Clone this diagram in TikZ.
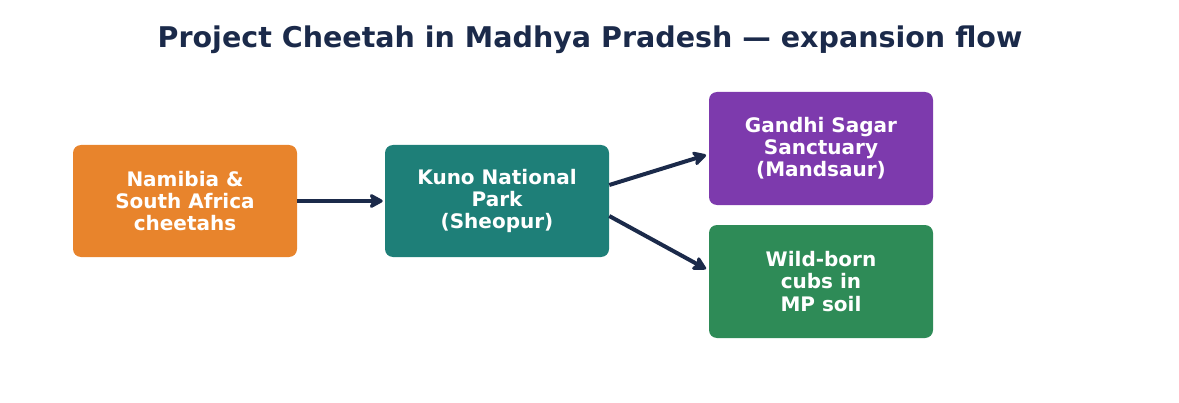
\documentclass[tikz,border=0pt]{standalone}
\usepackage{fontspec}
\setmainfont{DejaVu Sans}
\usetikzlibrary{arrows.meta}
\definecolor{navy}{HTML}{1B2A4A}
\definecolor{cheetahorange}{HTML}{E8842C}
\definecolor{kunoteal}{HTML}{1E7F78}
\definecolor{sagarpurple}{HTML}{7D3AAD}
\definecolor{cubgreen}{HTML}{2E8B57}
\begin{document}
\begin{tikzpicture}
[
    x=0.75pt, y=-0.75pt,
    stagebox/.style={rounded corners=6pt, minimum width=168pt, minimum height=84pt,
        align=center, text=white, font=\fontsize{15}{16.6}\selectfont\bfseries, inner sep=0pt},
    flow/.style={draw=navy, line width=3pt, -{Stealth[length=12pt, width=13pt, inset=3pt, round]}},
]
\useasboundingbox (0,0) rectangle (1179,403);
\node (title) at (590,39.5) [text=navy, font=\fontsize{21.4}{24}\selectfont\bfseries]
{Project Cheetah in Madhya Pradesh — expansion flow};
% source and hub
\node (namibia) at (185,201) [stagebox, fill=cheetahorange]
{Namibia \&\\South Africa\\cheetahs};
\node (kuno) at (497,201) [stagebox, fill=kunoteal]
{Kuno National\\Park\\(Sheopur)};
% expansion targets
\node (gandhi) at (821,148.5) [stagebox, fill=sagarpurple, minimum height=84.75pt]
{Gandhi Sagar\\Sanctuary\\(Mandsaur)};
\node (wildborn) at (821,281.5) [stagebox, fill=cubgreen, minimum height=84.75pt]
{Wild-born\\cubs in\\MP soil};
\draw [flow] (namibia.east) -- ([xshift=-1.5pt]kuno.west);
\draw [flow] ([yshift=12pt]kuno.east) -- ([xshift=-2pt, yshift=-4.9pt]gandhi.west);
\draw [flow] ([yshift=-11.25pt]kuno.east) -- ([xshift=-2pt, yshift=9.4pt]wildborn.west);
\end{tikzpicture}
\end{document}
